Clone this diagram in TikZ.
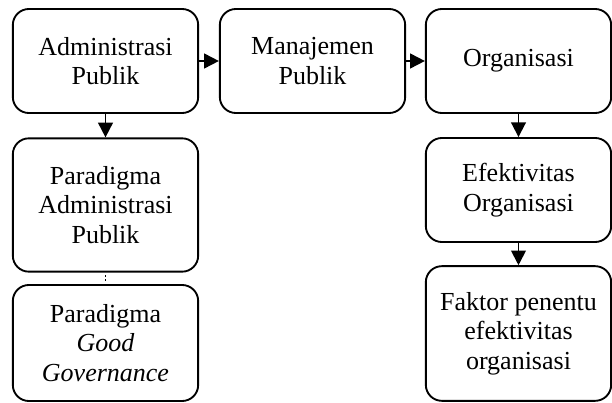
\documentclass[tikz,border=0pt]{standalone}
\usepackage{fontspec}
\setmainfont{Liberation Serif}
\usetikzlibrary{arrows.meta}

\begin{document}
\begin{tikzpicture}[x=0.75pt, y=-0.75pt, >={Triangle[length=11pt, width=11pt]},
  box/.style={draw, line width=1.4pt, rounded corners=12pt, align=center,
    minimum width=139pt, font=\fontsize{19.5}{22}\selectfont},
  arr/.style={->, line width=1.4pt}]
  \useasboundingbox (0,0) rectangle (612,403);
  % top row
  \node[box, minimum height=78pt] (adm) at (105.5,61) {Administrasi\\Publik};
  \node[box, minimum height=78pt] (man) at (312.5,61) {Manajemen\\Publik};
  \node[box, minimum height=78pt] (org) at (518.5,61) {Organisasi};
  % left column
  \node[box, minimum height=100pt] (padm) at (105.5,205) {Paradigma\\Administrasi\\Publik};
  \node[box, minimum height=87pt] (pgg) at (105.5,343) {Paradigma\\\textit{Good}\\\textit{Governance}};
  % right column
  \node[box, minimum height=78pt] (efk) at (518.5,190) {Efektivitas\\Organisasi};
  \node[box, minimum height=101pt] (fak) at (518.5,333.5) {Faktor penentu\\efektivitas\\organisasi};
  % arrows
  \draw[arr] (adm) -- (man);
  \draw[arr] (man) -- (org);
  \draw[arr] (adm) -- (padm);
  \draw[line width=1.2pt, dash pattern=on 1.5pt off 1.5pt, shorten <=2pt, shorten >=2pt] (padm) -- (pgg);
  \draw[arr] (org) -- (efk);
  \draw[arr] (efk) -- (fak);
\end{tikzpicture}
\end{document}
